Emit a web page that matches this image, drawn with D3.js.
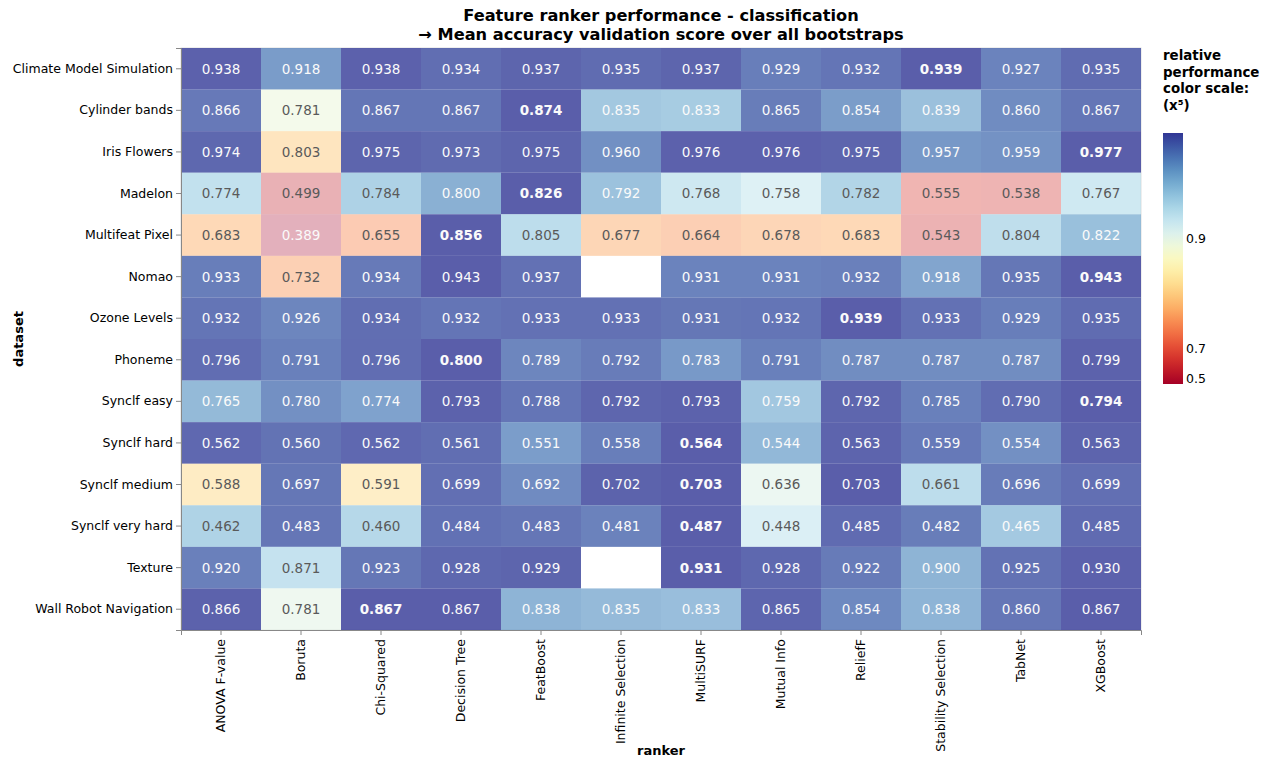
<!DOCTYPE html>
<meta charset="utf-8">
<style type="text/css">
  body {
    margin: 0;
    font-family: "DejaVu Sans", sans-serif;
    background: white;
  }
  .axis text {
    font: 12.5px "DejaVu Sans", sans-serif;
    fill: #000;
  }
  .axis line, .axis path {
    stroke: #888;
  }
</style>
<body>
<script src="https://d3js.org/d3.v7.min.js"></script>
<script>
  var datasets = ['Climate Model Simulation', 'Cylinder bands', 'Iris Flowers', 'Madelon', 'Multifeat Pixel',
    'Nomao', 'Ozone Levels', 'Phoneme', 'Synclf easy', 'Synclf hard', 'Synclf medium', 'Synclf very hard',
    'Texture', 'Wall Robot Navigation'];
  var rankers = ['ANOVA F-value', 'Boruta', 'Chi-Squared', 'Decision Tree', 'FeatBoost', 'Infinite Selection',
    'MultiSURF', 'Mutual Info', 'ReliefF', 'Stability Selection', 'TabNet', 'XGBoost'];

  // one row per dataset, columns in ranker order (null = no result)
  var scores = [
    [0.938, 0.918, 0.938, 0.934, 0.937, 0.935, 0.937, 0.929, 0.932, 0.939, 0.927, 0.935],
    [0.866, 0.781, 0.867, 0.867, 0.874, 0.835, 0.833, 0.865, 0.854, 0.839, 0.860, 0.867],
    [0.974, 0.803, 0.975, 0.973, 0.975, 0.960, 0.976, 0.976, 0.975, 0.957, 0.959, 0.977],
    [0.774, 0.499, 0.784, 0.800, 0.826, 0.792, 0.768, 0.758, 0.782, 0.555, 0.538, 0.767],
    [0.683, 0.389, 0.655, 0.856, 0.805, 0.677, 0.664, 0.678, 0.683, 0.543, 0.804, 0.822],
    [0.933, 0.732, 0.934, 0.943, 0.937, null, 0.931, 0.931, 0.932, 0.918, 0.935, 0.943],
    [0.932, 0.926, 0.934, 0.932, 0.933, 0.933, 0.931, 0.932, 0.939, 0.933, 0.929, 0.935],
    [0.796, 0.791, 0.796, 0.800, 0.789, 0.792, 0.783, 0.791, 0.787, 0.787, 0.787, 0.799],
    [0.765, 0.780, 0.774, 0.793, 0.788, 0.792, 0.793, 0.759, 0.792, 0.785, 0.790, 0.794],
    [0.562, 0.560, 0.562, 0.561, 0.551, 0.558, 0.564, 0.544, 0.563, 0.559, 0.554, 0.563],
    [0.588, 0.697, 0.591, 0.699, 0.692, 0.702, 0.703, 0.636, 0.703, 0.661, 0.696, 0.699],
    [0.462, 0.483, 0.460, 0.484, 0.483, 0.481, 0.487, 0.448, 0.485, 0.482, 0.465, 0.485],
    [0.920, 0.871, 0.923, 0.928, 0.929, null, 0.931, 0.928, 0.922, 0.900, 0.925, 0.930],
    [0.866, 0.781, 0.867, 0.867, 0.838, 0.835, 0.833, 0.865, 0.854, 0.838, 0.860, 0.867]
  ];

  // best ranker per dataset (shown in bold)
  var best = ['Stability Selection', 'FeatBoost', 'XGBoost', 'FeatBoost', 'Decision Tree', 'XGBoost', 'ReliefF',
    'Decision Tree', 'XGBoost', 'MultiSURF', 'MultiSURF', 'MultiSURF', 'MultiSURF', 'Chi-Squared'];

  var legendTicks = [0.5, 0.7, 0.9];

  var w = 1270;
  var h = 759;
  var m = {left: 181, right: 129, top: 48, bottom: 129};

  var cells = [];
  datasets.forEach(function(ds, i) {
    var rowMax = d3.max(scores[i]);
    rankers.forEach(function(rk, j) {
      if (scores[i][j] == null) return;
      cells.push({dataset: ds, ranker: rk, value: scores[i][j], rel: scores[i][j] / rowMax, best: best[i] == rk});
    });
  });

  var svg = d3.select('body')
    .append('svg')
    .attr('width', w)
    .attr('height', h);

  var x = d3.scaleBand().domain(rankers).range([m.left, w - m.right]);
  var y = d3.scaleBand().domain(datasets).range([m.top, h - m.bottom]);

  // relative performance, colour on an x^5 scale
  var pow5 = d3.scalePow().exponent(5).domain([0.5, 1]).range([0, 1]).clamp(true);
  var opacity = d3.scaleLinear().domain([0, 1]).range([0.3, 0.8]);

  function fill(r) {
    return d3.interpolateRdYlBu(pow5(r));
  }

  svg.append('rect') // view border
    .attr('x', m.left)
    .attr('y', m.top)
    .attr('width', w - m.left - m.right)
    .attr('height', h - m.top - m.bottom)
    .attr('fill', 'none')
    .attr('stroke', '#ddd');

  svg.selectAll('rect.cell')
    .data(cells)
    .enter()
    .append('rect')
    .attr('class', 'cell')
    .attr('x', function(d) { return x(d.ranker); })
    .attr('y', function(d) { return y(d.dataset); })
    .attr('width', x.bandwidth())
    .attr('height', y.bandwidth())
    .attr('fill', function(d) { return fill(d.rel); })
    .attr('fill-opacity', function(d) { return opacity(Math.pow(d.rel, 5)); });

  svg.selectAll('text.val')
    .data(cells)
    .enter()
    .append('text')
    .attr('class', 'val')
    .attr('x', function(d) { return x(d.ranker) + x.bandwidth() / 2; })
    .attr('y', function(d) { return y(d.dataset) + y.bandwidth() / 2; })
    .attr('dy', '0.36em')
    .attr('text-anchor', 'middle')
    .style('font-size', '13.5px')
    .style('font-weight', function(d) { return d.best ? 'bold' : 'normal'; })
    .attr('fill', function(d) { return (d.rel > 0.95 || d.rel < 0.5) ? '#fafafa' : '#5a5a5a'; })
    .text(function(d) { return d3.format('.3f')(d.value); });

  // axes
  svg.append('g')
    .attr('class', 'axis')
    .attr('transform', 'translate(' + m.left + ',0)')
    .call(d3.axisLeft(y).tickSize(5).tickPadding(3));

  var xa = svg.append('g')
    .attr('class', 'axis')
    .attr('transform', 'translate(0,' + (h - m.bottom) + ')')
    .call(d3.axisBottom(x).tickSize(5));
  xa.selectAll('text')
    .attr('transform', 'rotate(-90)')
    .attr('x', -9)
    .attr('y', 0)
    .attr('dy', '0.35em')
    .attr('text-anchor', 'end');

  svg.append('text')
    .attr('x', (m.left + w - m.right) / 2)
    .attr('y', 755)
    .attr('text-anchor', 'middle')
    .style('font-size', '13px')
    .style('font-weight', 'bold')
    .text('ranker');

  svg.append('text')
    .attr('transform', 'translate(23,' + ((m.top + h - m.bottom) / 2) + ') rotate(-90)')
    .attr('text-anchor', 'middle')
    .style('font-size', '13px')
    .style('font-weight', 'bold')
    .text('dataset');

  // title
  var title = svg.append('text')
    .attr('x', (m.left + w - m.right) / 2)
    .attr('text-anchor', 'middle')
    .style('font-size', '16.2px')
    .style('font-weight', 'bold');
  title.append('tspan').attr('x', (m.left + w - m.right) / 2).attr('y', 21)
    .text('Feature ranker performance - classification');
  title.append('tspan').attr('x', (m.left + w - m.right) / 2).attr('y', 40)
    .text('→ Mean accuracy validation score over all bootstraps');

  // legend
  var lg = svg.append('g').attr('transform', 'translate(1163,0)');
  ['relative', 'performance', 'color scale:', '(x⁵)'].forEach(function(t, i) {
    lg.append('text')
      .attr('x', 0)
      .attr('y', 60 + i * 16.5)
      .style('font-size', '13.4px')
      .style('font-weight', 'bold')
      .text(t);
  });

  var gTop = 133, gBot = 384;
  var defs = svg.append('defs');
  var grad = defs.append('linearGradient')
    .attr('id', 'lgrad')
    .attr('x1', 0).attr('y1', 1).attr('x2', 0).attr('y2', 0);
  d3.range(0, 1.0001, 0.05).forEach(function(t) {
    grad.append('stop')
      .attr('offset', t)
      .attr('stop-color', d3.interpolateRdYlBu(t));
  });
  lg.append('rect')
    .attr('x', 0)
    .attr('y', gTop)
    .attr('width', 20)
    .attr('height', gBot - gTop)
    .attr('fill', 'url(#lgrad)');

  var ly = d3.scalePow().exponent(5).domain([0.5, 1]).range([gBot, gTop]);
  lg.selectAll('text.lt')
    .data(legendTicks)
    .enter()
    .append('text')
    .attr('class', 'lt')
    .attr('x', 23)
    .attr('y', function(d) { return ly(d); })
    .attr('dy', function(d, i) { return i == 0 ? '-0.1em' : '0.35em'; })
    .style('font-size', '12.5px')
    .text(function(d) { return d; });
</script>
</body>
